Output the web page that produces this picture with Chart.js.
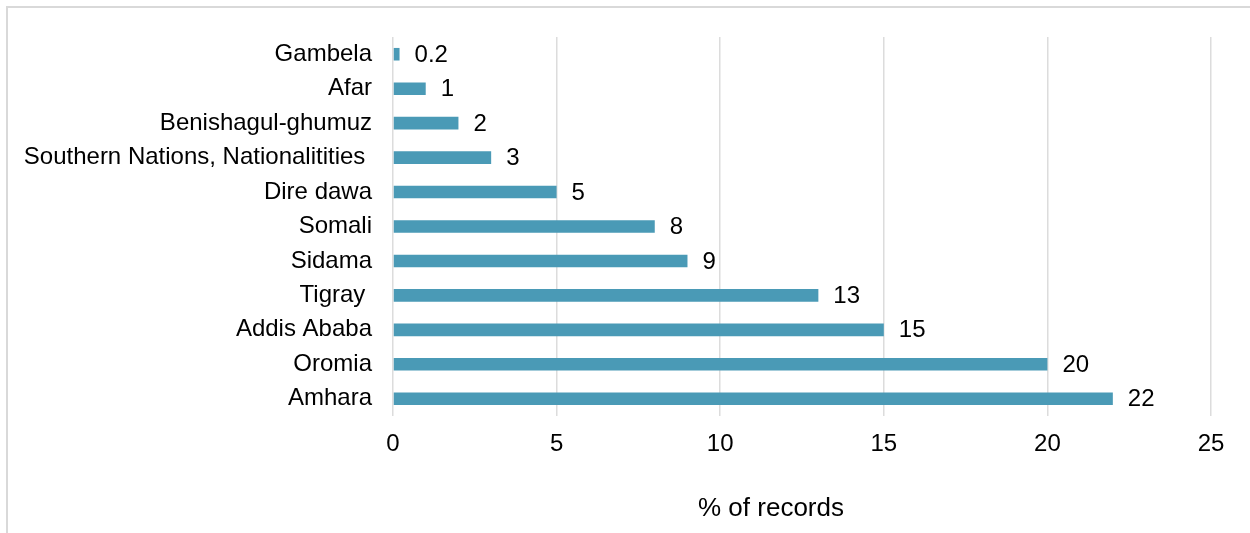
<!DOCTYPE html>
<html>
<head>
<meta charset="utf-8">
<script src="https://cdn.jsdelivr.net/npm/chart.js@4/dist/chart.umd.min.js"></script>
<style>
  html, body { margin: 0; padding: 0; background: #fff; }
  #wrap { width: 1250px; height: 533px; position: relative; }
</style>
</head>
<body>
<div id="wrap"><canvas id="myChart" width="1250" height="533"></canvas></div>
<script>
// regions, top to bottom as in the picture
const regions = ['Gambela', 'Afar', 'Benishagul-ghumuz', 'Southern Nations, Nationalitities ',
    'Dire dawa', 'Somali', 'Sidama', 'Tigray ', 'Addis Ababa', 'Oromia', 'Amhara'];
const percentRecords = [0.2, 1, 2, 3, 5, 8, 9, 13, 15, 20, 22];
const xTicks = [0, 5, 10, 15, 20, 25];
const xTitle = '% of records';

const FONT = 'Liberation Sans, Arial, sans-serif';

// light grey frame round the chart
const framePlugin = {
    id: 'frame',
    beforeDraw(chart) {
        const ctx = chart.ctx;
        ctx.save();
        ctx.strokeStyle = '#d9d9d9';
        ctx.lineWidth = 2;
        ctx.strokeRect(7, 7, 1400, 700);
        ctx.restore();
    }
};

// value labels to the right of each bar, plus the axis title
// (the title sits left of the plot centre in the original)
const valueLabels = {
    id: 'valueLabels',
    afterDatasetsDraw(chart) {
        const ctx = chart.ctx;
        const meta = chart.getDatasetMeta(0);
        ctx.save();
        ctx.font = '24px ' + FONT;
        ctx.fillStyle = '#000';
        ctx.textAlign = 'left';
        ctx.textBaseline = 'middle';
        meta.data.forEach((bar, i) => {
            ctx.fillText(String(percentRecords[i]), bar.x + 15, bar.y + 1);
        });
        ctx.font = '26px ' + FONT;
        ctx.textAlign = 'center';
        ctx.fillText(xTitle, 771, 509);
        ctx.restore();
    }
};

const ctx = document.getElementById('myChart').getContext('2d');
const chart = new Chart(ctx, {
    type: 'bar',
    data: {
        labels: regions,
        datasets: [{
            data: percentRecords,
            backgroundColor: '#4a9ab6',
            borderWidth: 0,
            barPercentage: 0.365,
            categoryPercentage: 1
        }]
    },
    options: {
        indexAxis: 'y',
        responsive: false,
        animation: false,
        layout: { padding: { top: 37, right: 39, bottom: 0, left: 0 } },
        plugins: {
            legend: { display: false },
            tooltip: { enabled: false }
        },
        scales: {
            x: {
                min: 0,
                max: 25,
                afterBuildTicks: scale => { scale.ticks = xTicks.map(v => ({ value: v })); },
                afterFit: scale => { scale.height = 117; },
                grid: { color: '#dcdcdc', lineWidth: 1.5, drawTicks: false },
                border: { display: false },
                ticks: { color: '#000', font: { family: FONT, size: 24 }, padding: 14 }
            },
            y: {
                afterFit: scale => { scale.width = 393; },
                grid: { display: false, drawTicks: false },
                border: { display: false },
                ticks: { color: '#000', font: { family: FONT, size: 24 }, padding: 21 }
            }
        }
    },
    plugins: [framePlugin, valueLabels]
});
</script>
</body>
</html>
